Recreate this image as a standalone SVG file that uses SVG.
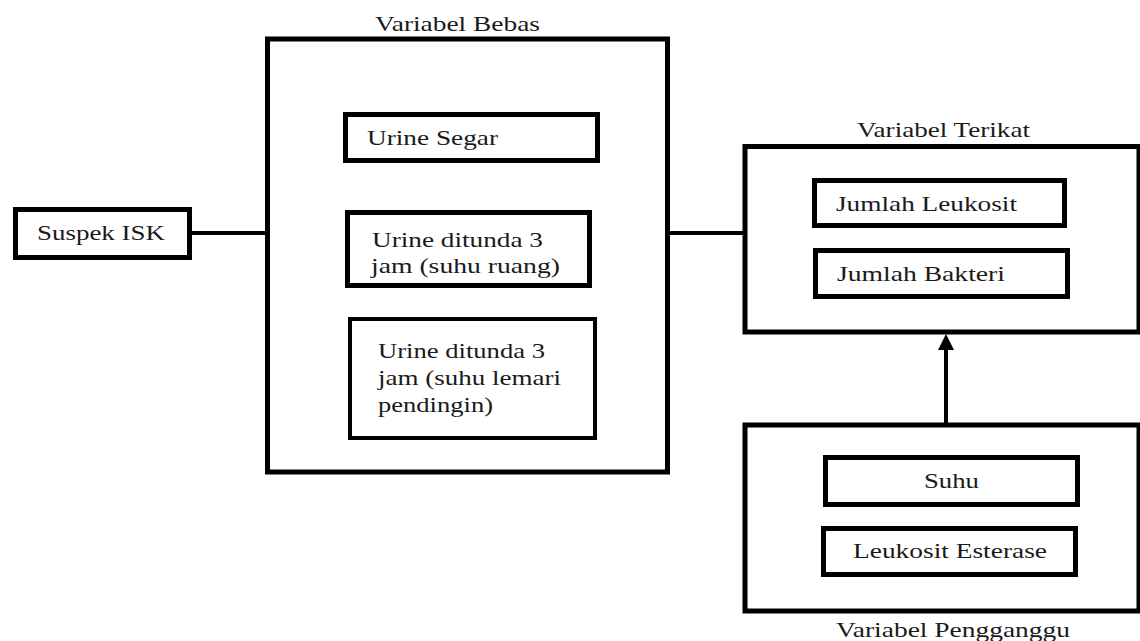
<svg xmlns="http://www.w3.org/2000/svg" width="1140" height="641" viewBox="0 0 1140 641">
<style>
rect{fill:#fff;stroke:#000;stroke-width:5}
text{font-family:"Liberation Serif", "Times New Roman", serif;font-size:22px;fill:#1a1a1a}
.c{stroke:#000;stroke-width:4;fill:none}
</style>
<defs>
<marker id="ah" markerWidth="4" markerHeight="4" refX="2" refY="2" orient="auto" markerUnits="strokeWidth">
<path d="M0,0 L4,2 L0,4 z" fill="#000"/>
</marker>
</defs>
<rect x="0" y="0" width="1140" height="641" style="stroke:none"/>
<g id="connectors">
<line class="c" x1="190" y1="233" x2="267" y2="233"/>
<line class="c" x1="667" y1="233" x2="745" y2="233"/>
<line class="c" x1="946" y1="423" x2="946" y2="342" marker-end="url(#ah)"/>
</g>
<g id="suspek">
<rect x="15.5" y="209.5" width="174" height="48"/>
<text x="37" y="240" textLength="128" lengthAdjust="spacingAndGlyphs">Suspek ISK</text>
</g>
<g id="bebas">
<rect x="267.5" y="39" width="400" height="433"/>
<text x="375" y="31" textLength="165" lengthAdjust="spacingAndGlyphs">Variabel Bebas</text>
</g>
<g id="urine-segar">
<rect x="345.5" y="114.5" width="252" height="46"/>
<text x="367" y="145" textLength="131" lengthAdjust="spacingAndGlyphs">Urine Segar</text>
</g>
<g id="urine-ruang">
<rect x="347.5" y="212.5" width="242" height="73"/>
<text x="372" y="247" textLength="171" lengthAdjust="spacingAndGlyphs">Urine ditunda 3</text>
<text x="371" y="273" textLength="189" lengthAdjust="spacingAndGlyphs">jam (suhu ruang)</text>
</g>
<g id="urine-lemari">
<rect x="350" y="319" width="245" height="119" style="stroke-width:4"/>
<text x="378" y="358" textLength="167" lengthAdjust="spacingAndGlyphs">Urine ditunda 3</text>
<text x="378" y="385" textLength="183" lengthAdjust="spacingAndGlyphs">jam (suhu lemari</text>
<text x="378" y="412" textLength="115" lengthAdjust="spacingAndGlyphs">pendingin)</text>
</g>
<g id="terikat">
<rect x="745" y="146.5" width="394" height="185.5"/>
<text x="857" y="137" textLength="173" lengthAdjust="spacingAndGlyphs">Variabel Terikat</text>
</g>
<g id="leukosit">
<rect x="814.5" y="180.5" width="250" height="45"/>
<text x="836" y="211" textLength="181" lengthAdjust="spacingAndGlyphs">Jumlah Leukosit</text>
</g>
<g id="bakteri">
<rect x="815.5" y="250.5" width="252" height="46"/>
<text x="837" y="281" textLength="168" lengthAdjust="spacingAndGlyphs">Jumlah Bakteri</text>
</g>
<g id="pengganggu">
<rect x="745" y="425" width="394" height="186"/>
<text x="836" y="637" textLength="234" lengthAdjust="spacingAndGlyphs">Variabel Pengganggu</text>
</g>
<g id="suhu">
<rect x="825.5" y="457.5" width="252" height="47"/>
<text x="924" y="488" textLength="55" lengthAdjust="spacingAndGlyphs">Suhu</text>
</g>
<g id="esterase">
<rect x="823.5" y="528.5" width="252" height="46"/>
<text x="853" y="558" textLength="194" lengthAdjust="spacingAndGlyphs">Leukosit Esterase</text>
</g>
</svg>
